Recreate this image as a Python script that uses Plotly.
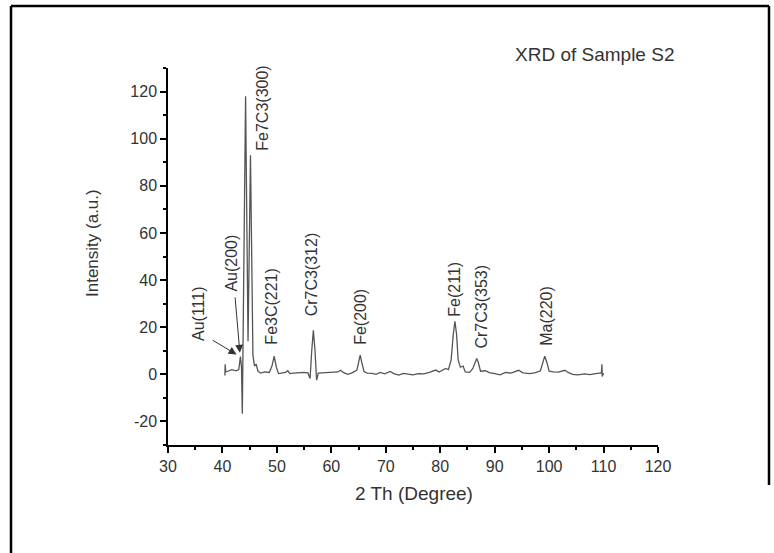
import plotly.graph_objects as go

# ---- data ----
two_theta = [40.45, 40.5, 40.6, 41.0, 41.7, 42.5, 43.0, 43.3, 43.5, 43.65, 44.25, 44.7, 45.15,
             45.6, 45.9, 46.2, 46.5, 47.0, 47.8, 48.6, 49.1, 49.5, 49.9, 50.3, 51.0, 51.6,
             52.0, 52.4, 53.0, 54.0, 55.0, 55.7, 56.1, 56.4, 56.7, 57.0, 57.3, 57.6, 58.5,
             59.5, 60.5, 61.2, 61.7, 62.2, 63.0, 63.8, 64.7, 65.0, 65.3, 65.6, 66.0, 66.6,
             67.5, 68.2, 69.0, 69.8, 70.8, 71.5, 72.4, 73.2, 74.0, 75.0, 76.0, 77.0, 78.0,
             79.2, 79.8, 80.5, 81.0, 81.5, 82.0, 82.4, 82.7, 83.0, 83.3, 83.7, 84.2, 84.6,
             85.4, 86.0, 86.4, 86.7, 87.0, 87.4, 88.3, 89.0, 90.0, 91.0, 92.0, 93.0, 94.4,
             95.2, 96.5, 97.5, 98.4, 98.8, 99.2, 99.6, 100.0, 100.8, 101.7, 102.9, 103.5,
             104.3, 105.3, 106.5, 107.5, 108.5, 109.2, 109.6, 109.7, 109.75, 110.0]
intensity = [-0.5, 4.3, 1.0, 1.3, 2.0, 1.5, 2.0, 7.5, 3.0, -16.7, 118.0, 14.0, 93.0,
             8.0, 3.5, 4.3, 1.5, 0.5, 1.0, 0.8, 3.5, 7.7, 3.0, 0.3, 0.5, 0.8,
             1.5, 0.3, 0.5, 0.8, 0.8, 0.6, -1.8, 10.0, 18.7, 10.0, -2.5, 0.5, 0.6,
             0.7, 0.9, 1.0, 1.7, 0.8, 0.0, 0.6, 1.8, 5.0, 8.1, 5.0, 1.2, 0.5,
             0.4, 0.0, 0.8, 0.2, 1.2, 0.3, -0.3, 0.4, 0.2, -0.2, 0.3, 0.2, 0.8,
             1.8, 1.0, 1.7, 2.5, 2.0, 6.0, 17.0, 22.5, 17.0, 6.0, 3.0, 3.5, 1.0,
             0.8, 2.5, 5.5, 6.7, 5.0, 1.3, 1.5, 0.7, 0.3, -0.2, 0.8, 0.5, 1.7,
             0.6, 0.3, 0.7, 1.5, 5.0, 7.7, 5.0, 1.3, 1.0, 0.9, 1.7, 0.8,
             0.0, -0.2, 0.2, -0.1, 0.3, 0.6, 0.6, 4.3, -0.9, 0.5]

peak_labels = ["Au(111)", "Au(200)", "Fe7C3(300)", "Fe3C(221)", "Cr7C3(312)",
               "Fe(200)", "Fe(211)", "Cr7C3(353)", "Ma(220)"]
label_x = [35.5, 41.75, 47.2, 49.05, 56.4, 65.45, 82.7, 87.6, 99.6]
label_y = [26.0, 47.4, 113.0, 28.6, 42.3, 24.4, 36.3, 28.6, 24.8]

x_ticks = [30, 40, 50, 60, 70, 80, 90, 100, 110, 120]
y_ticks = [-20, 0, 20, 40, 60, 80, 100, 120]
y_tick_text = ["-20", "0", "20", "40", "60", "80", "100", "120"]

FONT = "Liberation Sans, Arial, sans-serif"
TXT = "#333333"

W, H = 774, 553
L, R, T, B = 168, 658, 68, 445


def px(xp):
    return (xp - L) / (R - L)


def py(yp):
    return (B - yp) / (B - T)


fig = go.Figure()
fig.add_trace(go.Scatter(x=two_theta, y=intensity, mode="lines",
                         line=dict(color="#555555", width=1.3), showlegend=False,
                         hoverinfo="skip"))

anns = []
for t, lx, ly in zip(peak_labels, label_x, label_y):
    anns.append(dict(x=lx, y=ly, xref="x", yref="y", text=t, textangle=-90,
                     xanchor="center", yanchor="middle",
                     showarrow=False, font=dict(family=FONT, size=16, color=TXT)))
# arrows for Au peaks
anns.append(dict(x=42.6, y=8.4, ax=37.95, ay=14.8, xref="x", yref="y", axref="x", ayref="y",
                 text="", showarrow=True, arrowhead=2, arrowsize=1.6, arrowwidth=1,
                 arrowcolor="#333333"))
anns.append(dict(x=43.2, y=9.1, ax=42.3, ay=33.3, xref="x", yref="y", axref="x", ayref="y",
                 text="", showarrow=True, arrowhead=2, arrowsize=1.6, arrowwidth=1,
                 arrowcolor="#333333"))
# title
anns.append(dict(x=px(594), y=py(54), xref="paper", yref="paper",
                 xanchor="center", yanchor="middle",
                 text="XRD of Sample S2", showarrow=False,
                 font=dict(family=FONT, size=19, color=TXT)))
# axis titles
anns.append(dict(x=px(414), y=py(493), xref="paper", yref="paper",
                 xanchor="center", yanchor="middle",
                 text="2 Th (Degree)", showarrow=False,
                 font=dict(family=FONT, size=19, color=TXT)))
anns.append(dict(x=px(92), y=py(243), xref="paper", yref="paper",
                 xanchor="center", yanchor="middle",
                 text="Intensity (a.u.)", showarrow=False, textangle=-90,
                 font=dict(family=FONT, size=17, color=TXT)))

shapes = [
    dict(type="line", xref="paper", yref="paper", x0=px(11), x1=px(769), y0=py(6), y1=py(6),
         line=dict(color="black", width=2.5)),
    dict(type="line", xref="paper", yref="paper", x0=px(11), x1=px(11), y0=py(6), y1=py(553),
         line=dict(color="black", width=2.5)),
    dict(type="line", xref="paper", yref="paper", x0=px(769), x1=px(769), y0=py(6), y1=py(485),
         line=dict(color="black", width=2.5)),
]

fig.update_layout(
    width=W, height=H,
    margin=dict(l=L, r=W - R, t=T, b=H - B),
    paper_bgcolor="white", plot_bgcolor="white",
    annotations=anns, shapes=shapes,
    font=dict(family=FONT, color=TXT),
)
fig.update_xaxes(range=[30, 120], tickvals=x_ticks, ticks="outside", ticklen=6, tickwidth=1.5,
                 tickcolor="black", showline=True, linecolor="black", linewidth=1.5,
                 showgrid=False, zeroline=False, tickfont=dict(size=16, color=TXT),
                 minor=dict(dtick=5, ticks="outside", ticklen=3, tickcolor="black", tickwidth=1.5))
fig.update_yaxes(range=[-30, 130], tickvals=y_ticks, ticktext=y_tick_text, ticks="outside",
                 ticklen=6, tickwidth=1.5,
                 tickcolor="black", showline=True, linecolor="black", linewidth=1.5,
                 showgrid=False, zeroline=False, tickfont=dict(size=16, color=TXT),
                 minor=dict(dtick=10, tick0=-30, ticks="outside", ticklen=3, tickcolor="black",
                            tickwidth=1.5))

fig.write_html("out.html", config={"displayModeBar": False},
               post_script="document.body.style.margin='0';document.body.style.overflow='hidden';")
